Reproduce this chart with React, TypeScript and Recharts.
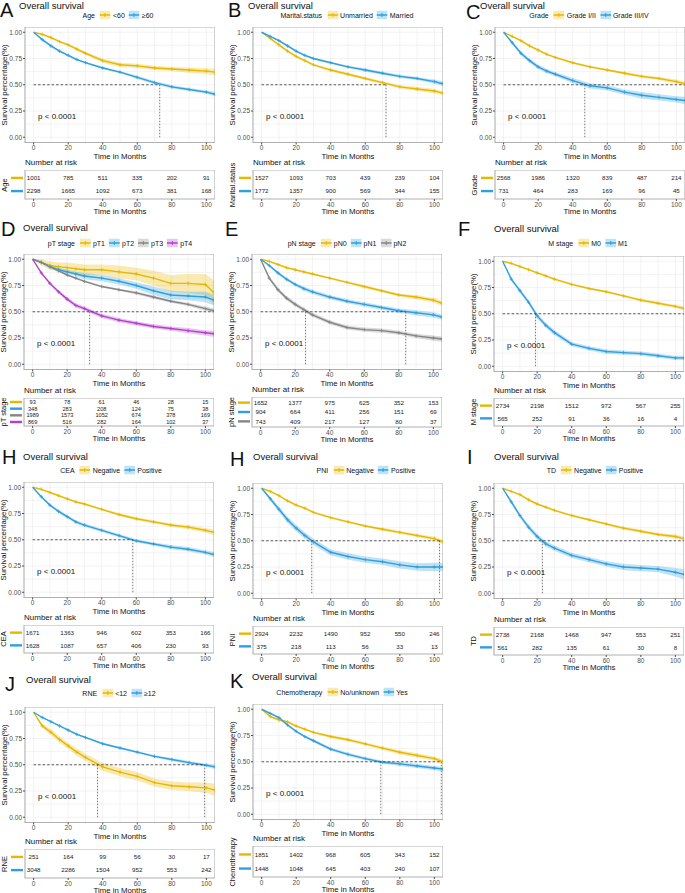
import React from "react";
import {
  ComposedChart,
  ScatterChart,
  Scatter,
  Line,
  Area,
  XAxis,
  YAxis,
  CartesianGrid,
  ReferenceLine,
  ReferenceArea,
  ReferenceDot,
} from "recharts";

// Kaplan-Meier grids: survival at these months
const months = [0, 5, 10, 15, 20, 25, 30, 40, 50, 60, 70, 80, 90, 100, 105];
const riskMonths = [0, 20, 40, 60, 80, 100];
const xTicks = [0, 20, 40, 60, 80, 100];
const xMinor = [10, 30, 50, 70, 90];
const yTicks = [0, 0.25, 0.5, 0.75, 1];
const yMinor = [0.125, 0.375, 0.625, 0.875];

const YELLOW = "#E7B800";
const BLUE = "#2E9FDF";
const GRAY = "#868686";
const PURPLE = "#B23FCB";

// A: Age (CI half-widths in hundredths)
const ageNames = ["<60", "≥60"];
const ageLt60 = [1.0, 0.98, 0.95, 0.91, 0.88, 0.84, 0.8, 0.73, 0.69, 0.68, 0.66, 0.65, 0.64, 0.63, 0.62];
const ageLt60Ci = [0, 1, 1, 1, 1, 1.5, 1.5, 2, 2, 2, 2, 2, 2.5, 3, 3];
const ageGe60 = [1.0, 0.93, 0.87, 0.82, 0.78, 0.74, 0.71, 0.66, 0.62, 0.57, 0.52, 0.48, 0.455, 0.43, 0.41];
const ageGe60Ci = [0, 1, 1, 1, 1, 1, 1, 1, 1, 1.5, 1.5, 1.5, 1.5, 1.5, 2];
const ageRisk = [
  [1001, 785, 511, 335, 202, 91],
  [2298, 1665, 1092, 673, 381, 168],
];

// B: Marital status
const marNames = ["Unmarried", "Married"];
const marUn = [1.0, 0.94, 0.88, 0.82, 0.77, 0.73, 0.69, 0.64, 0.6, 0.56, 0.52, 0.48, 0.46, 0.44, 0.42];
const marUnCi = [0, 1, 1, 1, 1, 1, 1, 1.5, 1.5, 1.5, 1.5, 1.5, 2, 2, 2];
const marMa = [1.0, 0.96, 0.92, 0.87, 0.82, 0.78, 0.75, 0.71, 0.67, 0.64, 0.61, 0.58, 0.56, 0.53, 0.51];
const marMaCi = [0, 0.5, 1, 1, 1, 1, 1, 1, 1, 1.5, 1.5, 1.5, 1.5, 2, 2];
const marRisk = [
  [1527, 1093, 703, 439, 239, 104],
  [1772, 1357, 900, 569, 344, 155],
];

// C: Grade
const grNames = ["Grade I/II", "Grade III/IV"];
const grLow = [1.0, 0.96, 0.92, 0.87, 0.83, 0.79, 0.76, 0.71, 0.67, 0.64, 0.61, 0.58, 0.56, 0.53, 0.51];
const grLowCi = [0, 0.5, 1, 1, 1, 1, 1, 1, 1, 1, 1.5, 1.5, 1.5, 2, 2];
const grHigh = [1.0, 0.9, 0.8, 0.73, 0.67, 0.63, 0.6, 0.54, 0.49, 0.47, 0.43, 0.4, 0.38, 0.36, 0.35];
const grHighCi = [0, 1.5, 2, 2, 2, 2, 2, 2.5, 2.5, 2.5, 2.5, 3, 3, 3, 3.5];
const grRisk = [
  [2568, 1986, 1320, 839, 487, 214],
  [731, 464, 283, 169, 96, 45],
];

// D: pT stage
const ptNames = ["pT1", "pT2", "pT3", "pT4"];
const pT1 = [1.0, 0.97, 0.94, 0.93, 0.92, 0.91, 0.9, 0.9, 0.88, 0.86, 0.82, 0.77, 0.77, 0.76, 0.68];
const pT1Ci = [0, 3, 4, 4, 5, 5, 5, 5, 6, 6, 7, 8, 9, 10, 12];
const pT2 = [1.0, 0.97, 0.93, 0.9, 0.88, 0.86, 0.84, 0.82, 0.79, 0.75, 0.7, 0.66, 0.65, 0.64, 0.61];
const pT2Ci = [0, 1, 2, 2, 2, 2, 3, 3, 3, 3, 4, 4, 4, 5, 5];
const pT3 = [1.0, 0.97, 0.93, 0.89, 0.85, 0.82, 0.79, 0.74, 0.71, 0.68, 0.64, 0.6, 0.57, 0.53, 0.51];
const pT3Ci = [0, 0.5, 0.5, 1, 1, 1, 1, 1, 1, 1.5, 1.5, 1.5, 1.5, 2, 2];
const pT4 = [1.0, 0.87, 0.77, 0.69, 0.62, 0.56, 0.53, 0.46, 0.42, 0.39, 0.36, 0.34, 0.32, 0.3, 0.29];
const pT4Ci = [0, 1, 1.5, 1.5, 2, 2, 2, 2, 2, 2, 2, 2, 2.5, 2.5, 3];
const ptRisk = [
  [93, 78, 61, 46, 28, 15],
  [348, 283, 208, 124, 75, 38],
  [1989, 1573, 1052, 674, 378, 169],
  [869, 516, 282, 164, 102, 37],
];

// E: pN stage
const pnNames = ["pN0", "pN1", "pN2"];
const pN0 = [1.0, 0.98, 0.95, 0.92, 0.9, 0.88, 0.86, 0.82, 0.78, 0.74, 0.7, 0.66, 0.64, 0.61, 0.58];
const pN0Ci = [0, 0.5, 0.5, 1, 1, 1, 1, 1, 1, 1.5, 1.5, 1.5, 2, 2, 2.5];
const pN1 = [1.0, 0.94, 0.87, 0.81, 0.76, 0.72, 0.69, 0.64, 0.6, 0.57, 0.54, 0.51, 0.49, 0.47, 0.45];
const pN1Ci = [0, 1, 1.5, 1.5, 1.5, 2, 2, 2, 2, 2, 2, 2, 2.5, 2.5, 2.5];
const pN2 = [1.0, 0.82, 0.71, 0.63, 0.57, 0.52, 0.47, 0.4, 0.35, 0.33, 0.32, 0.3, 0.27, 0.25, 0.24];
const pN2Ci = [0, 1.5, 2, 2, 2, 2, 2, 2, 2, 2, 2, 2, 2, 2.5, 2.5];
const pnRisk = [
  [1652, 1377, 975, 625, 352, 153],
  [904, 664, 411, 256, 151, 69],
  [743, 409, 217, 127, 80, 37],
];

// F: M stage
const mNames = ["M0", "M1"];
const m0 = [1.0, 0.98, 0.95, 0.92, 0.89, 0.86, 0.83, 0.78, 0.74, 0.71, 0.67, 0.63, 0.6, 0.57, 0.55];
const m0Ci = [0, 0.5, 0.5, 0.5, 1, 1, 1, 1, 1, 1, 1, 1.5, 1.5, 1.5, 2];
const m1 = [1.0, 0.83, 0.72, 0.61, 0.48, 0.39, 0.32, 0.21, 0.17, 0.14, 0.13, 0.12, 0.1, 0.08, 0.08];
const m1Ci = [0, 1.5, 2, 2, 2.5, 2.5, 2.5, 2, 2, 2, 2, 2, 2, 2, 2];
const mRisk = [
  [2734, 2198, 1512, 972, 567, 255],
  [565, 252, 91, 36, 16, 4],
];

// H: CEA
const negPosNames = ["Negative", "Positive"];
const ceaNeg = [1.0, 0.98, 0.95, 0.92, 0.89, 0.86, 0.84, 0.79, 0.74, 0.7, 0.67, 0.64, 0.62, 0.59, 0.57];
const ceaNegCi = [0, 0.5, 0.5, 1, 1, 1, 1, 1, 1.5, 1.5, 1.5, 1.5, 2, 2, 2.5];
const ceaPos = [1.0, 0.91, 0.83, 0.77, 0.72, 0.67, 0.64, 0.59, 0.54, 0.49, 0.46, 0.43, 0.41, 0.38, 0.36];
const ceaPosCi = [0, 1, 1, 1.5, 1.5, 1.5, 1.5, 1.5, 1.5, 1.5, 1.5, 2, 2, 2, 2.5];
const ceaRisk = [
  [1671, 1363, 946, 602, 353, 166],
  [1628, 1087, 657, 406, 230, 93],
];

// H: PNI
const pniNeg = [1.0, 0.97, 0.93, 0.88, 0.84, 0.81, 0.77, 0.72, 0.68, 0.64, 0.61, 0.58, 0.55, 0.52, 0.49];
const pniNegCi = [0, 0.5, 0.5, 1, 1, 1, 1, 1, 1, 1, 1.5, 1.5, 1.5, 2, 2];
const pniPos = [1.0, 0.9, 0.8, 0.7, 0.62, 0.55, 0.49, 0.39, 0.35, 0.32, 0.3, 0.27, 0.25, 0.25, 0.25];
const pniPosCi = [0, 2, 2.5, 3, 3, 3, 3, 3, 3, 3, 3, 3.5, 3.5, 4, 4];
const pniRisk = [
  [2924, 2232, 1490, 952, 550, 246],
  [375, 218, 113, 56, 33, 13],
];

// I: TD
const tdNeg = [1.0, 0.97, 0.94, 0.89, 0.85, 0.82, 0.79, 0.74, 0.7, 0.66, 0.62, 0.59, 0.56, 0.54, 0.52];
const tdNegCi = [0, 0.5, 0.5, 1, 1, 1, 1, 1, 1, 1, 1.5, 1.5, 1.5, 2, 2];
const tdPos = [1.0, 0.87, 0.74, 0.63, 0.54, 0.47, 0.43, 0.36, 0.32, 0.28, 0.25, 0.24, 0.23, 0.2, 0.18];
const tdPosCi = [0, 2, 2, 2.5, 2.5, 2.5, 2.5, 2.5, 2.5, 2.5, 3, 3, 3, 4, 5];
const tdRisk = [
  [2738, 2168, 1468, 947, 553, 251],
  [561, 282, 135, 61, 30, 8],
];

// J: RNE
const rneNames = ["<12", "≥12"];
const rneLow = [1.0, 0.87, 0.81, 0.74, 0.68, 0.62, 0.57, 0.48, 0.43, 0.39, 0.33, 0.3, 0.29, 0.28, 0.26];
const rneLowCi = [0, 2, 3, 3, 3, 3.5, 3.5, 4, 4, 4, 4, 4, 4, 5, 6];
const rneHigh = [1.0, 0.95, 0.91, 0.87, 0.83, 0.79, 0.76, 0.7, 0.66, 0.62, 0.58, 0.55, 0.52, 0.495, 0.48];
const rneHighCi = [0, 0.5, 0.5, 0.5, 1, 1, 1, 1, 1, 1, 1, 1.5, 1.5, 1.5, 2];
const rneRisk = [
  [251, 164, 99, 56, 30, 17],
  [3048, 2286, 1504, 952, 553, 242],
];

// K: Chemotherapy
const chNames = ["No/unknown", "Yes"];
const chNo = [1.0, 0.93, 0.9, 0.88, 0.84, 0.81, 0.78, 0.74, 0.71, 0.67, 0.63, 0.59, 0.56, 0.53, 0.5];
const chNoCi = [0, 1, 1, 1, 1, 1, 1, 1.5, 1.5, 1.5, 1.5, 2, 2, 2, 2.5];
const chYes = [1.0, 0.96, 0.92, 0.85, 0.79, 0.74, 0.7, 0.62, 0.57, 0.53, 0.495, 0.48, 0.46, 0.44, 0.43];
const chYesCi = [0, 1, 1, 1, 1, 1, 1.5, 1.5, 1.5, 1.5, 1.5, 2, 2, 2, 2];
const chRisk = [
  [1851, 1402, 968, 605, 343, 152],
  [1448, 1048, 645, 403, 240, 107],
];

// median survival times (dashed guides) and how far the 0.5 guide runs
const medA = [73], endA = 73;
const medB = [72], endB = 72;
const medC = [47], endC = 105;
const medD = [33], endD = 105;
const medE = [26, 84], endE = 84;
const medF = [19], endF = 105;
const medCEA = [58], endCEA = 58;
const medPNI = [29, 103], endPNI = 103;
const medTD = [23], endTD = 105;
const medJ = [37, 99], endJ = 99;
const medK = [69, 104], endK = 104;

type Group = { name: string; color: string; surv: number[]; ci: number[]; risk: number[] };
type Panel = {
  letter: string;
  title: boolean;
  variable: string;
  groups: Group[];
  medians: number[];
  medianEnd: number;
  left: number;
  kmTop: number;
  tableTop: number;
  tableH: number;
  letterX: number;
  letterY: number;
  titleX: number;
  titleY: number;
  legendX: number;
  legendY: number;
};

const grp = (names: string[], colors: string[], surv: number[][], ci: number[][], risk: number[][]): Group[] =>
  names.map((name, i) => ({ name, color: colors[i], surv: surv[i], ci: ci[i], risk: risk[i] }));

const YB = [YELLOW, BLUE];

const panels: Panel[] = [
  { letter: "A", title: true, variable: "Age", groups: grp(ageNames, YB, [ageLt60, ageGe60], [ageLt60Ci, ageGe60Ci], ageRisk),
    medians: medA, medianEnd: endA, left: 25, kmTop: 27, tableTop: 170, tableH: 29,
    letterX: 0, letterY: 9.5, titleX: 19, titleY: 5.5, legendX: 119, legendY: 14.5 },
  { letter: "B", title: true, variable: "Marital.status", groups: grp(marNames, YB, [marUn, marMa], [marUnCi, marMaCi], marRisk),
    medians: medB, medianEnd: endB, left: 253, kmTop: 27, tableTop: 170, tableH: 29,
    letterX: 228, letterY: 9.5, titleX: 248, titleY: 5.5, legendX: 348, legendY: 14.5 },
  { letter: "C", title: true, variable: "Grade", groups: grp(grNames, YB, [grLow, grHigh], [grLowCi, grHighCi], grRisk),
    medians: medC, medianEnd: endC, left: 495, kmTop: 27, tableTop: 170, tableH: 29,
    letterX: 466, letterY: 12, titleX: 480, titleY: 5.5, legendX: 590, legendY: 14.5 },
  { letter: "D", title: true, variable: "pT stage",
    groups: grp(ptNames, [YELLOW, BLUE, GRAY, PURPLE], [pT1, pT2, pT3, pT4], [pT1Ci, pT2Ci, pT3Ci, pT4Ci], ptRisk),
    medians: medD, medianEnd: endD, left: 24, kmTop: 254, tableTop: 398, tableH: 28,
    letterX: 1, letterY: 229, titleX: 23, titleY: 228, legendX: 121, legendY: 243 },
  { letter: "E", title: false, variable: "pN stage",
    groups: grp(pnNames, [YELLOW, BLUE, GRAY], [pN0, pN1, pN2], [pN0Ci, pN1Ci, pN2Ci], pnRisk),
    medians: medE, medianEnd: endE, left: 252, kmTop: 254, tableTop: 397, tableH: 30,
    letterX: 225, letterY: 229, titleX: 252, titleY: 228, legendX: 348, legendY: 243 },
  { letter: "F", title: true, variable: "M stage", groups: grp(mNames, YB, [m0, m1], [m0Ci, m1Ci], mRisk),
    medians: medF, medianEnd: endF, left: 494, kmTop: 256, tableTop: 398, tableH: 28,
    letterX: 458, letterY: 229, titleX: 494, titleY: 229, legendX: 589, legendY: 243 },
  { letter: "H", title: true, variable: "CEA", groups: grp(negPosNames, YB, [ceaNeg, ceaPos], [ceaNegCi, ceaPosCi], ceaRisk),
    medians: medCEA, medianEnd: endCEA, left: 24, kmTop: 482, tableTop: 625, tableH: 28,
    letterX: 2, letterY: 457, titleX: 23, titleY: 457, legendX: 112, legendY: 470 },
  { letter: "H", title: true, variable: "PNI", groups: grp(negPosNames, YB, [pniNeg, pniPos], [pniNegCi, pniPosCi], pniRisk),
    medians: medPNI, medianEnd: endPNI, left: 253, kmTop: 483, tableTop: 626, tableH: 28,
    letterX: 230, letterY: 459, titleX: 253, titleY: 457, legendX: 367, legendY: 470 },
  { letter: "I", title: true, variable: "TD", groups: grp(negPosNames, YB, [tdNeg, tdPos], [tdNegCi, tdPosCi], tdRisk),
    medians: medTD, medianEnd: endTD, left: 494, kmTop: 483, tableTop: 627, tableH: 28,
    letterX: 467, letterY: 457, titleX: 494, titleY: 457, legendX: 596, legendY: 470 },
  { letter: "J", title: true, variable: "RNE", groups: grp(rneNames, YB, [rneLow, rneHigh], [rneLowCi, rneHighCi], rneRisk),
    medians: medJ, medianEnd: endJ, left: 25, kmTop: 707, tableTop: 849, tableH: 29,
    letterX: 5, letterY: 684, titleX: 26, titleY: 680, legendX: 120, legendY: 693 },
  { letter: "K", title: true, variable: "Chemotherapy", groups: grp(chNames, YB, [chNo, chYes], [chNoCi, chYesCi], chRisk),
    medians: medK, medianEnd: endK, left: 253, kmTop: 704, tableTop: 846, tableH: 31,
    letterX: 230, letterY: 681, titleX: 252, titleY: 677, legendX: 343, legendY: 692 },
];

const PW = 190; // plot box width (−5..105 months)
const PH = 115.5; // plot box height (−0.05..1.05)
const XH = 20;
const TICK = { fontSize: 6.5, fill: "#4D4D4D" };
const AXIS_TITLE = { fontSize: 7.8, fill: "#111" };
const SVG_STYLE = { overflow: "visible" as const };

function LegendKey({ color }: { color: string }) {
  return (
    <svg width={11} height={9} style={{ display: "block" }}>
      <rect x={0} y={0} width={11} height={9} fill={color} fillOpacity={0.3} />
      <line x1={0} x2={11} y1={4.5} y2={4.5} stroke={color} strokeWidth={1.3} />
      <line x1={5.5} x2={5.5} y1={2.5} y2={6.5} stroke={color} strokeWidth={1} />
    </svg>
  );
}

function KMChart({ p }: { p: Panel }) {
  const YW = 24;
  const rows = months.map((t, i) => {
    const r: Record<string, number | number[]> = { t };
    p.groups.forEach((g, k) => {
      r["s" + k] = g.surv[i];
      r["b" + k] = [g.surv[i] - g.ci[i] / 100, Math.min(1, g.surv[i] + g.ci[i] / 100)];
    });
    return r;
  });
  const plus = (color: string) => (props: any) => {
    const { cx, cy, index } = props;
    if (!index || cx == null) return <g key={`d-${index}`} />;
    return (
      <path key={`d-${index}`} d={`M${cx - 1.8},${cy}h3.6M${cx},${cy - 1.8}v3.6`} stroke={color} strokeWidth={0.8} />
    );
  };
  return (
    <div style={{ position: "absolute", left: p.left - YW, top: p.kmTop }}>
      <ComposedChart
        width={YW + PW}
        height={PH + XH}
        data={rows}
        margin={{ top: 0, right: 0, bottom: 0, left: 0 }}
        style={SVG_STYLE}
      >
        <CartesianGrid
          verticalValues={[...xTicks, ...xMinor]}
          horizontalValues={[...yTicks, ...yMinor]}
          stroke="#EBEBEB"
          strokeWidth={0.6}
        />
        <XAxis
          type="number"
          dataKey="t"
          domain={[-5, 105]}
          ticks={xTicks}
          interval={0}
          allowDataOverflow
          height={XH}
          axisLine={false}
          tickSize={2}
          tickMargin={1}
          tick={TICK}
          tickLine={{ stroke: "#4D4D4D" }}
          label={{ value: "Time in Months", position: "insideBottom", offset: 4, ...AXIS_TITLE }}
        />
        <YAxis
          type="number"
          domain={[-0.05, 1.05]}
          ticks={yTicks}
          interval={0}
          allowDataOverflow
          width={YW}
          axisLine={false}
          tickSize={2}
          tickMargin={1}
          tick={TICK}
          tickLine={{ stroke: "#4D4D4D" }}
          tickFormatter={(v: number) => v.toFixed(2)}
        />
        {p.groups.map((g, k) => (
          <Area
            key={"a" + k}
            type="linear"
            dataKey={"b" + k}
            stroke="none"
            fill={g.color}
            fillOpacity={0.3}
            isAnimationActive={false}
            activeDot={false}
          />
        ))}
        {p.groups.map((g, k) => (
          <Line
            key={"l" + k}
            type="linear"
            dataKey={"s" + k}
            stroke={g.color}
            strokeWidth={1.4}
            dot={plus(g.color)}
            activeDot={false}
            isAnimationActive={false}
          />
        ))}
        <ReferenceLine
          segment={[{ x: 0, y: 0.5 }, { x: p.medianEnd, y: 0.5 }]}
          stroke="#333"
          strokeWidth={0.8}
          strokeDasharray="2.5 2"
        />
        {p.medians.map((m) => (
          <ReferenceLine
            key={"m" + m}
            segment={[{ x: m, y: 0 }, { x: m, y: 0.5 }]}
            stroke="#555"
            strokeWidth={0.8}
            strokeDasharray="1.5 1.5"
          />
        ))}
        <ReferenceDot
          x={2}
          y={0.2}
          r={0}
          stroke="none"
          fill="none"
          label={{ value: "p < 0.0001", position: "right", offset: 1, fontSize: 8, fill: "#111" }}
        />
        <ReferenceArea x1={-5} x2={105} y1={-0.05} y2={1.05} fill="none" stroke="#B0B0B0" strokeWidth={1.1} />
      </ComposedChart>
    </div>
  );
}

function RiskTable({ p }: { p: Panel }) {
  const YW = 16;
  const n = p.groups.length;
  const pts = p.groups.flatMap((g, k) => riskMonths.map((t, j) => ({ t, row: k + 1, n: g.risk[j] })));
  const rowTicks = p.groups.map((_, k) => k + 1);
  const fs = n > 3 ? 5.6 : 6.2;
  return (
    <div style={{ position: "absolute", left: p.left - YW, top: p.tableTop }}>
      <ScatterChart
        width={YW + PW}
        height={p.tableH + XH}
        margin={{ top: 0, right: 0, bottom: 0, left: 0 }}
        style={SVG_STYLE}
      >
        <XAxis
          type="number"
          dataKey="t"
          domain={[-5, 105]}
          ticks={xTicks}
          interval={0}
          allowDataOverflow
          height={XH}
          axisLine={false}
          tickSize={2}
          tickMargin={1}
          tick={TICK}
          tickLine={{ stroke: "#4D4D4D" }}
          label={{ value: "Time in Months", position: "insideBottom", offset: 5, ...AXIS_TITLE }}
        />
        <YAxis
          type="number"
          dataKey="row"
          domain={[0.4, n + 0.6]}
          ticks={rowTicks}
          interval={0}
          reversed
          allowDataOverflow
          width={YW}
          axisLine={false}
          tickLine={false}
          tickSize={0}
          tickMargin={2}
          tick={(tp: any) => (
            <line
              key={"rt" + tp.index}
              x1={tp.x - 12}
              x2={tp.x}
              y1={tp.y}
              y2={tp.y}
              stroke={p.groups[(tp.payload?.value ?? 1) - 1]?.color}
              strokeWidth={2.4}
            />
          )}
        />
        <Scatter
          data={pts}
          isAnimationActive={false}
          shape={(sp: any) => (
            <text x={sp.cx} y={sp.cy} dy="0.35em" textAnchor="middle" fontSize={fs} fill="#1a1a1a">
              {sp.payload.n}
            </text>
          )}
        />
        <ReferenceArea x1={-5} x2={105} y1={0.4} y2={n + 0.6} fill="none" stroke="#B0B0B0" strokeWidth={1.1} />
      </ScatterChart>
    </div>
  );
}

const abs = (x: number, y: number, extra: React.CSSProperties = {}): React.CSSProperties => ({
  position: "absolute",
  left: x,
  top: y,
  lineHeight: 1,
  whiteSpace: "nowrap",
  transform: "translateY(-50%)",
  ...extra,
});

function KMPanel({ p }: { p: Panel }) {
  return (
    <>
      <div style={abs(p.letterX, p.letterY, { fontSize: 20 })}>{p.letter}</div>
      {p.title && <div style={abs(p.titleX, p.titleY, { fontSize: 9.5 })}>Overall survival</div>}
      <div
        style={abs(p.legendX, p.legendY, {
          transform: "translate(-50%, -50%)",
          display: "flex",
          alignItems: "center",
          fontSize: 7,
          gap: 2,
        })}
      >
        <span style={{ marginRight: 3 }}>{p.variable}</span>
        {p.groups.map((g) => (
          <React.Fragment key={g.name}>
            <LegendKey color={g.color} />
            <span style={{ marginRight: 2 }}>{g.name}</span>
          </React.Fragment>
        ))}
      </div>
      <div
        style={abs(p.left - 20, p.kmTop + PH / 2, {
          fontSize: 7.8,
          transform: "translate(-50%, -50%) rotate(-90deg)",
        })}
      >
        Survival percentage(%)
      </div>
      <KMChart p={p} />
      <div style={abs(p.left, p.tableTop - 7, { fontSize: 8 })}>Number at risk</div>
      <div
        style={abs(p.left - 20, p.tableTop + p.tableH / 2, {
          fontSize: 7.5,
          transform: "translate(-50%, -50%) rotate(-90deg)",
        })}
      >
        {p.variable}
      </div>
      <RiskTable p={p} />
    </>
  );
}

export default function App() {
  return (
    <div
      style={{
        position: "absolute",
        left: 0,
        top: 0,
        width: 685,
        height: 893,
        background: "#fff",
        overflow: "hidden",
        color: "#111",
        fontFamily: '"Liberation Sans", Arial, Helvetica, sans-serif',
      }}
    >
      {panels.map((p, i) => (
        <KMPanel key={i} p={p} />
      ))}
    </div>
  );
}
